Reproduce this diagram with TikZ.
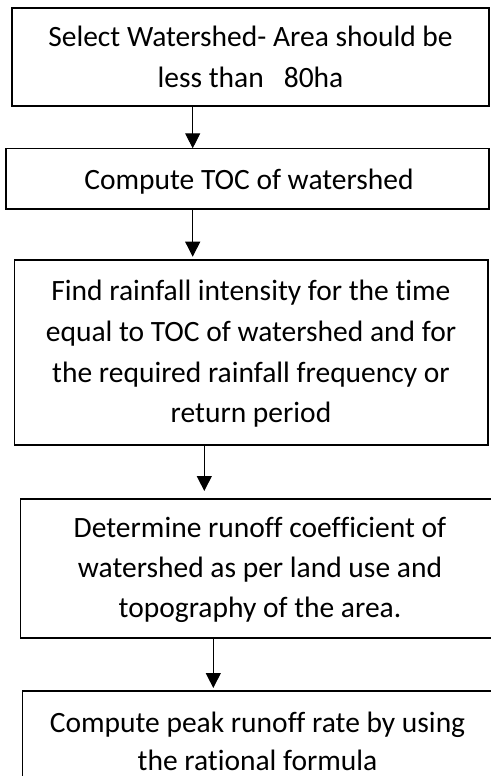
\documentclass[tikz,border=0pt]{standalone}
\usepackage{fontspec}
\setmainfont{Carlito}[Ligatures=NoCommon]
\usetikzlibrary{arrows.meta}
\begin{document}
\begin{tikzpicture}[x=1pt,y=-1pt,
  box/.style={draw=black,line width=1.2pt,rectangle,inner sep=0pt},
  txt/.style={anchor=base,inner sep=0pt,font=\fontsize{29.5}{41}\selectfont},
  arr/.style={draw=black,line width=1pt,-{Triangle[length=15pt,width=15pt]}}]
\useasboundingbox (0,0) rectangle (490,776);
% boxes
\node[box,minimum width=477pt,minimum height=98pt] (b1) at (250.5,57) {};
\node[box,minimum width=483pt,minimum height=60.5pt] (b2) at (247.5,178.75) {};
\node[box,minimum width=473.3pt,minimum height=185pt] (b3) at (251.4,352.5) {};
\node[box,minimum width=479.3pt,minimum height=139pt] (b4) at (260.3,568.5) {};
\node[box,minimum width=469.3pt,minimum height=119pt] (b5) at (257.3,750.5) {};
% texts
\node[txt] (t1a) at (250.5,47) {Select Watershed- Area should be};
\node[txt] (t1b) at (250.5,88) {less than\ \ \ 80ha};
\node[txt] (t2a) at (249,189) {Compute TOC of watershed};
\node[txt] (t3a) at (251,300) {Find rainfall intensity for the time};
\node[txt] (t3b) at (251,341) {equal to TOC of watershed and for};
\node[txt] (t3c) at (251,382) {the required rainfall frequency or};
\node[txt] (t3d) at (251,422) {return period};
\node[txt] (t4a) at (260,537) {Determine runoff coefficient of};
\node[txt] (t4b) at (260,577) {watershed as per land use and};
\node[txt] (t4c) at (260,617) {topography of the area.};
\node[txt] (t5a) at (257.5,732) {Compute peak runoff rate by using};
\node[txt] (t5b) at (257.5,770) {the rational formula};
% arrow columns
\coordinate (c1) at (192.7,0);
\coordinate (c2) at (192.7,0);
\coordinate (c3) at (204.3,0);
\coordinate (c4) at (213.3,0);
\coordinate (e1) at (0,148.3);
\coordinate (e2) at (0,256.7);
\coordinate (e3) at (0,491);
\coordinate (e4) at (0,688);
\draw[arr] (c1 |- b1.south) -- (c1 |- e1);
\draw[arr] (c2 |- b2.south) -- (c2 |- e2);
\draw[arr] (c3 |- b3.south) -- (c3 |- e3);
\draw[arr] (c4 |- b4.south) -- (c4 |- e4);
\end{tikzpicture}
\end{document}
